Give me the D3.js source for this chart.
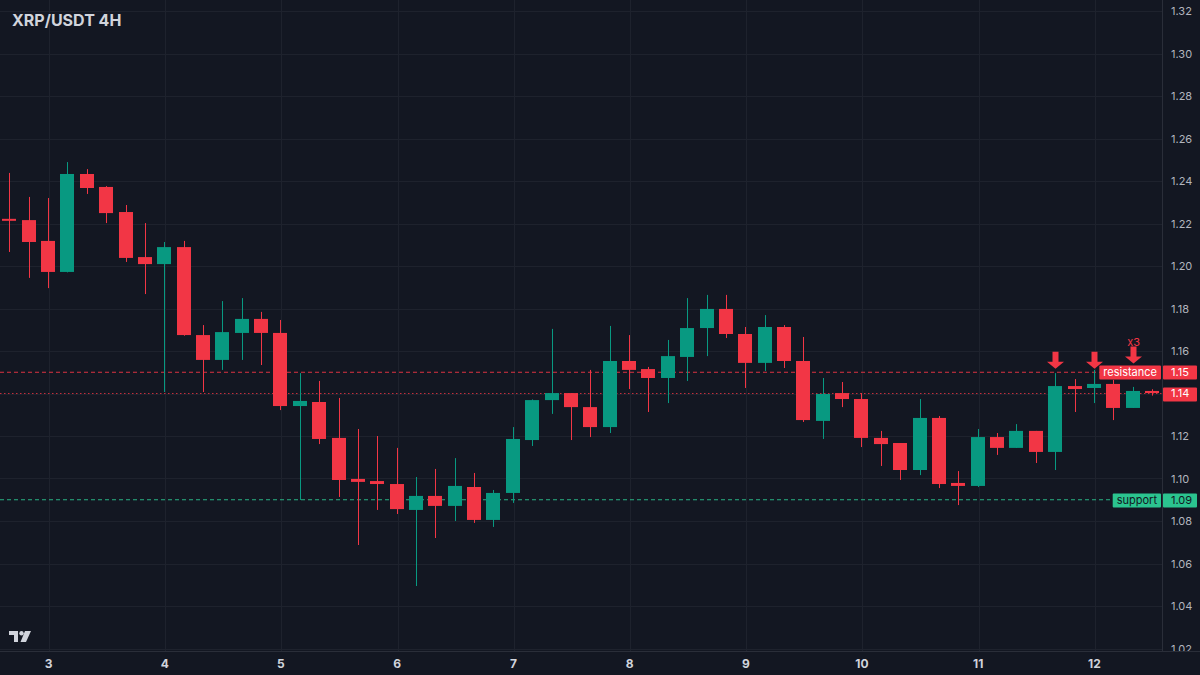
<!DOCTYPE html>
<html>
<head>
<meta charset="utf-8">
<script src="https://cdn.jsdelivr.net/npm/d3@7"></script>
<style>
  body { margin: 0; background: #131722; }
  svg { display: block; }
  text { font-family: Inter, "Noto Sans", sans-serif; }
</style>
</head>
<body>
<svg id="chart" width="1200" height="675"></svg>
<script>
// XRP/USDT 4H candles
var opens  = [1.2222,1.2216,1.2118,1.1972,1.2433,1.2372,1.2254,1.2042,1.2009,1.2089,
              1.1675,1.1558,1.1685,1.1751,1.1685,1.1341,1.1360,1.1191,1.0998,1.0988,
              1.0974,1.0852,1.0918,1.0871,1.0960,1.0805,1.0932,1.1181,1.1369,1.1402,
              1.1336,1.1242,1.1553,1.1515,1.1473,1.1572,1.1708,1.1798,1.1680,1.1544,
              1.1713,1.1553,1.1271,1.1402,1.1374,1.1191,1.1167,1.1040,1.1285,1.0979,
              1.0965,1.1195,1.1144,1.1224,1.1125,1.1435,1.1426,1.1445,1.1332,1.1412];
var highs  = [1.2438,1.2325,1.2320,1.2489,1.2456,1.2376,1.2287,1.2202,1.2113,1.2118,
              1.1722,1.1835,1.1849,1.1784,1.1746,1.1496,1.1459,1.1379,1.1233,1.1200,
              1.1144,1.1007,1.1045,1.1096,1.1026,1.0946,1.1242,1.1372,1.1704,1.1402,
              1.1511,1.1718,1.1675,1.1525,1.1652,1.1849,1.1864,1.1864,1.1713,1.1769,
              1.1722,1.1666,1.1473,1.1454,1.1402,1.1224,1.1167,1.1374,1.1294,1.1035,
              1.1233,1.1214,1.1256,1.1224,1.1496,1.1468,1.1511,1.1464,1.1431,1.1420];
var lows   = [1.2066,1.1944,1.1896,1.1970,1.2339,1.2202,1.2019,1.1868,1.1407,1.1672,
              1.1407,1.1511,1.1558,1.1534,1.1322,1.0899,1.1162,1.0913,1.0687,1.0852,
              1.0833,1.0494,1.0720,1.0800,1.0791,1.0772,1.0885,1.1153,1.1304,1.1181,
              1.1195,1.1214,1.1421,1.1313,1.1355,1.1459,1.1576,1.1661,1.1426,1.1506,
              1.1520,1.1266,1.1186,1.1336,1.1148,1.1059,1.0993,1.1016,1.0955,1.0875,
              1.0960,1.1111,1.1144,1.1073,1.1040,1.1313,1.1355,1.1275,1.1332,1.1390];
var closes = [1.2217,1.2113,1.1972,1.2433,1.2367,1.2249,1.2038,1.2009,1.2089,1.1675,
              1.1558,1.1689,1.1751,1.1685,1.1341,1.1365,1.1186,1.0993,1.0984,1.0974,
              1.0856,1.0918,1.0871,1.0965,1.0805,1.0932,1.1186,1.1369,1.1402,1.1336,
              1.1242,1.1553,1.1511,1.1473,1.1576,1.1708,1.1798,1.1680,1.1544,1.1713,
              1.1553,1.1275,1.1398,1.1374,1.1191,1.1162,1.1040,1.1285,1.0974,1.0965,
              1.1195,1.1144,1.1224,1.1125,1.1435,1.1421,1.1445,1.1332,1.1412,1.1402];

var firstDay = 2 + 16/24;   // first candle opens day 2, 16:00
var dayTicks = [3,4,5,6,7,8,9,10,11,12];
var priceTicks = [1.02,1.04,1.06,1.08,1.10,1.12,1.14,1.16,1.18,1.20,1.22,1.24,1.26,1.28,1.30,1.32];

var resistance = 1.15, support = 1.09, lastPrice = 1.14;
var arrowIdx = [54,56,58];
var arrowTip = [1.1517,1.1517,1.1541];

var RED = "#f23645", GREEN = "#089981", SUP = "#2bc48f";
var W = 1200, H = 675, plotR = 1162, plotB = 651;

var t = opens.map(function(d,i){ return firstDay + i/6; });

var x = d3.scaleLinear().domain([firstDay, firstDay + 59/6]).range([9.3, 1152]);
var y = d3.scaleLinear().domain([1.02, 1.32]).range([648.5, 11]);

var svg = d3.select("#chart");
svg.append("rect").attr("width", W).attr("height", H).attr("fill", "#131722");

svg.append("defs").append("clipPath").attr("id","plot")
  .append("rect").attr("width", plotR).attr("height", plotB);

var plot = svg.append("g").attr("clip-path","url(#plot)");

// grid
plot.selectAll(".hg").data(priceTicks).enter().append("line")
  .attr("x1",0).attr("x2",plotR)
  .attr("y1",function(d){return Math.round(y(d))+0.5;})
  .attr("y2",function(d){return Math.round(y(d))+0.5;})
  .attr("stroke","#1e222d").attr("stroke-width",1);
plot.selectAll(".vg").data(dayTicks).enter().append("line")
  .attr("y1",0).attr("y2",plotB)
  .attr("x1",function(d){return Math.round(x(d))+1.5;})
  .attr("x2",function(d){return Math.round(x(d))+1.5;})
  .attr("stroke","#1e222d").attr("stroke-width",1);

// level lines
plot.append("line").attr("x1",0).attr("x2",plotR)
  .attr("y1",y(lastPrice)).attr("y2",y(lastPrice))
  .attr("stroke",RED).attr("stroke-opacity",0.8).attr("stroke-dasharray","1.5,2.5");
plot.append("line").attr("x1",0).attr("x2",plotR)
  .attr("y1",y(resistance)).attr("y2",y(resistance))
  .attr("stroke",RED).attr("stroke-opacity",0.9).attr("stroke-dasharray","4,3");
plot.append("line").attr("x1",0).attr("x2",plotR)
  .attr("y1",y(support)).attr("y2",y(support))
  .attr("stroke",SUP).attr("stroke-opacity",0.9).attr("stroke-dasharray","4,3");

// candles
var step = x(firstDay + 1/6) - x(firstDay);
var bw = Math.round(step * 0.74);
var c = plot.selectAll(".candle").data(t).enter().append("g");
c.append("line")
  .attr("x1",function(d){return Math.round(x(d))+0.5;})
  .attr("x2",function(d){return Math.round(x(d))+0.5;})
  .attr("y1",function(d,i){return y(highs[i]);})
  .attr("y2",function(d,i){return y(lows[i]);})
  .attr("stroke",function(d,i){return closes[i]>=opens[i]?GREEN:RED;});
c.append("rect")
  .attr("x",function(d){return Math.round(x(d)) - Math.floor(bw/2);})
  .attr("width",bw)
  .attr("y",function(d,i){return y(Math.max(opens[i],closes[i]));})
  .attr("height",function(d,i){return Math.max(2, Math.abs(y(opens[i])-y(closes[i])));})
  .attr("fill",function(d,i){return closes[i]>=opens[i]?GREEN:RED;});

// arrows at the resistance touches
arrowIdx.forEach(function(idx,k){
  var cx = Math.round(x(t[idx])) + 0.5, ty = y(arrowTip[k]);
  var p = "M"+(cx-3)+","+(ty-17)+"H"+(cx+3)+"V"+(ty-7)+"H"+(cx+8.5)+"L"+cx+","+ty+
          "L"+(cx-8.5)+","+(ty-7)+"H"+(cx-3)+"Z";
  plot.append("path").attr("d",p).attr("fill",RED);
});
svg.append("text").attr("x",x(t[arrowIdx[2]])+1).attr("y",y(arrowTip[2])-18)
  .attr("text-anchor","middle").attr("font-size",11).attr("fill",RED).text("x3");

// axes frame
svg.append("line").attr("x1",plotR+0.5).attr("x2",plotR+0.5).attr("y1",0).attr("y2",plotB)
  .attr("stroke","#2a2e39");
svg.append("line").attr("x1",0).attr("x2",W).attr("y1",plotB+0.5).attr("y2",plotB+0.5)
  .attr("stroke","#2a2e39");

// price axis
svg.append("defs").append("clipPath").attr("id","yax")
  .append("rect").attr("x",plotR).attr("width",W-plotR).attr("height",plotB);
var ya = svg.append("g").attr("clip-path","url(#yax)").append("g")
  .attr("transform","translate(1171,0)")
  .call(d3.axisRight(y).tickValues(priceTicks).tickSize(0).tickPadding(0)
    .tickFormat(d3.format(".2f")));
ya.select(".domain").remove();
ya.selectAll("text").attr("font-size",11).attr("fill","#b2b5be")
  .style("font-family","Inter, 'Noto Sans', sans-serif");

// time axis
var xa = svg.append("g").attr("transform","translate(0,"+plotB+")")
  .call(d3.axisBottom(x).tickValues(dayTicks).tickSize(0).tickPadding(8)
    .tickFormat(function(d){return d;}));
xa.select(".domain").remove();
xa.selectAll("text").attr("font-size",12).attr("font-weight",700).attr("fill","#d1d4dc")
  .style("font-family","Inter, 'Noto Sans', sans-serif");

// level labels
function tag(val, txt, bg, fg, rightX) {
  var g = svg.append("g");
  var tx = g.append("text").attr("x",0).attr("y",y(val)).attr("dy","0.35em")
    .attr("font-size",11).attr("fill",fg).text(txt);
  var w = tx.node().getComputedTextLength();
  var x0 = rightX - w - 8;
  g.insert("rect","text").attr("x",x0).attr("y",Math.round(y(val))-6.5)
    .attr("width",w+8).attr("height",14).attr("rx",1).attr("fill",bg);
  tx.attr("x",x0+4);
}
function priceTag(val, bg, fg) {
  svg.append("rect").attr("x",plotR+1).attr("y",Math.round(y(val))-6.5)
    .attr("width",34).attr("height",14).attr("rx",1).attr("fill",bg);
  svg.append("text").attr("x",1171).attr("y",y(val)).attr("dy","0.35em")
    .attr("font-size",11).attr("fill",fg).text(d3.format(".2f")(val));
}
tag(resistance, "resistance", RED, "#ffffff", plotR - 1);
tag(support, "support", SUP, "#131722", plotR - 1);
priceTag(resistance, RED, "#ffffff");
priceTag(lastPrice, RED, "#ffffff");
priceTag(support, SUP, "#131722");

// title
svg.append("text").attr("x",12).attr("y",26).attr("font-size",16).attr("font-weight",700)
  .attr("fill","#d1d4dc").text("XRP/USDT 4H");

// logo
var logo = svg.append("g").attr("fill","#d1d4dc");
logo.append("path").attr("d","M9,631H18V642H14V635H9Z");
logo.append("circle").attr("cx",21.5).attr("cy",633.2).attr("r",2.2);
logo.append("path").attr("d","M25,631H31L26,642H20.5Z");
</script>
</body>
</html>
